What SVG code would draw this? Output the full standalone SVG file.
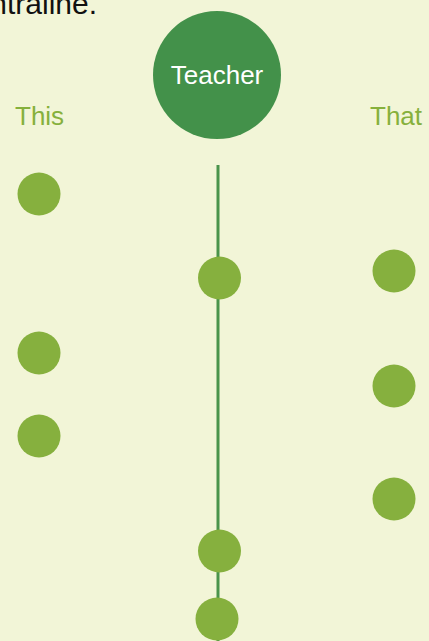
<svg xmlns="http://www.w3.org/2000/svg" width="429" height="641" viewBox="0 0 429 641">
<style>
.dot{fill:#86B03E}
.lbl{font-family:"Liberation Sans",Arial,sans-serif;font-size:26px;fill:#86B03C}
</style>
<rect width="429" height="641" fill="#F2F5D7"/>
<text x="97" y="14" text-anchor="end" font-family="'Liberation Sans',Arial,sans-serif" font-size="30" fill="#111">ntraline.</text>
<g id="connectors">
<line x1="218" y1="165" x2="218" y2="641" stroke="#4A944B" stroke-width="3"/>
</g>
<g id="teacher">
<circle cx="217" cy="75" r="64" fill="#43914A"/>
<text x="217" y="84" text-anchor="middle" font-family="'Liberation Sans',Arial,sans-serif" font-size="26" fill="#fff">Teacher</text>
</g>
<g id="label-this"><text class="lbl" x="15" y="125">This</text></g>
<g id="label-that"><text class="lbl" x="370" y="125">That</text></g>
<g id="left1"><circle class="dot" cx="39" cy="194" r="21.5"/></g>
<g id="left2"><circle class="dot" cx="39" cy="353" r="21.5"/></g>
<g id="left3"><circle class="dot" cx="39" cy="436" r="21.5"/></g>
<g id="center1"><circle class="dot" cx="219.5" cy="278" r="21.5"/></g>
<g id="center2"><circle class="dot" cx="219.5" cy="551" r="21.5"/></g>
<g id="center3"><circle class="dot" cx="217" cy="619" r="21.5"/></g>
<g id="right1"><circle class="dot" cx="394" cy="271" r="21.5"/></g>
<g id="right2"><circle class="dot" cx="394" cy="386" r="21.5"/></g>
<g id="right3"><circle class="dot" cx="394" cy="499" r="21.5"/></g>
</svg>
